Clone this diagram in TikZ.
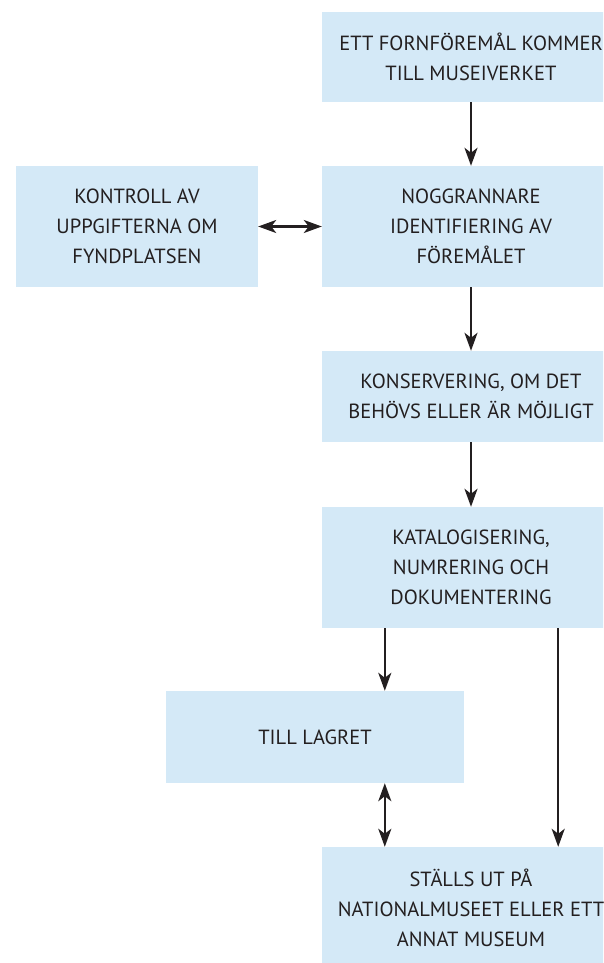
\documentclass[tikz,border=0pt]{standalone}
\usepackage{fontspec}
\setmainfont{PT Sans}
\usetikzlibrary{arrows.meta}

\definecolor{boxblue}{RGB}{212,233,247}
\definecolor{inkgray}{RGB}{35,31,32}
\tikzset{
    stepbox/.style={fill=boxblue, draw=none, minimum width=298pt, inner sep=0pt,
        align=center, text=inkgray, font=\fontsize{20.5}{30}\selectfont},
    flow/.style={line width=2.4pt, draw=inkgray, -{Stealth[length=18pt,width=13pt,inset=5pt]}},
    twoway/.style={flow, {Stealth[length=18pt,width=13pt,inset=5pt]}-{Stealth[length=18pt,width=13pt,inset=5pt]}}
}

\begin{document}
\begin{tikzpicture}[x=1pt,y=-1pt]
            \useasboundingbox (0,0) rectangle (603,963);
            \clip (0,0) rectangle (603,963);

            % Boxes of the flow
            \node[stepbox, minimum height=90pt] (arrive) at (471,57) {ETT FORNFÖREMÅL KOMMER\\TILL MUSEIVERKET};
            \node[stepbox, minimum height=121pt, minimum width=242pt] (check) at (137,226.5) {KONTROLL AV\\UPPGIFTERNA OM\\FYNDPLATSEN};
            \node[stepbox, minimum height=121pt] (identify) at (471,226.5) {NOGGRANNARE\\IDENTIFIERING AV\\FÖREMÅLET};
            \node[stepbox, minimum height=91pt] (conserve) at (471,396.5) {KONSERVERING, OM DET\\BEHÖVS ELLER ÄR MÖJLIGT};
            \node[stepbox, minimum height=121pt] (catalog) at (471,567.5) {KATALOGISERING,\\NUMRERING OCH\\DOKUMENTERING};
            \node[stepbox, minimum height=92pt] (store) at (315,737) {TILL LAGRET};
            \node[stepbox, minimum height=121pt] (exhibit) at (471,907.5) {STÄLLS UT PÅ\\NATIONALMUSEET ELLER ETT\\ANNAT MUSEUM};

            % Arrows
            \draw[flow] (arrive) -- (identify);
            \draw[twoway] (check) -- (identify);
            \draw[flow] (identify) -- (conserve);
            \draw[flow] (conserve) -- (catalog);
            \draw[flow] ([xshift=63pt]catalog.south west) -- ([xshift=63pt]catalog.south west |- store.north);
            \draw[twoway] ([xshift=63pt]exhibit.north west |- store.south) -- ([xshift=63pt]exhibit.north west);
            \draw[flow] ([xshift=-62pt]catalog.south east) -- ([xshift=-62pt]exhibit.north east);
        \end{tikzpicture}
\end{document}
